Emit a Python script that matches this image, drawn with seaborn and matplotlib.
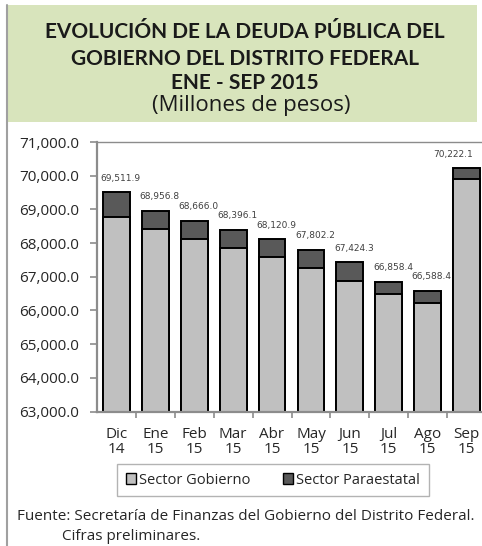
import numpy as np
import matplotlib.pyplot as plt
import seaborn as sns
import pandas as pd
from matplotlib.patches import Rectangle, Patch
from matplotlib.lines import Line2D
from matplotlib.ticker import FuncFormatter, MultipleLocator

# data
meses = ['Dic\n14', 'Ene\n15', 'Feb\n15', 'Mar\n15', 'Abr\n15', 'May\n15',
         'Jun\n15', 'Jul\n15', 'Ago\n15', 'Sep\n15']
total = [69511.9, 68956.8, 68666.0, 68396.1, 68120.9, 67802.2,
         67424.3, 66858.4, 66588.4, 70222.1]
gobierno = [68780, 68430, 68130, 67860, 67580, 67260,
            66880, 66500, 66210, 69910]
paraestatal = [t - g for t, g in zip(total, gobierno)]

df = pd.DataFrame({'mes': meses, 'total': total, 'gobierno': gobierno,
                   'paraestatal': paraestatal})

sns.set_theme(style='white')
plt.rcParams['font.family'] = ['Open Sans', 'DejaVu Sans']

fig = plt.figure(figsize=(4.82, 5.46), dpi=100)
W, H = 482, 546

# header box
fig.patches.append(Rectangle((7 / W, 1 - 122 / H), 470 / W, 117 / H,
                             transform=fig.transFigure, facecolor='#d8e4bc',
                             edgecolor='none', zorder=0))
fig.lines.append(Line2D([7 / W, 7 / W], [0, 1 - 5 / H], transform=fig.transFigure,
                        color='#a0a0a0', lw=1.5))

tkw = dict(ha='center', va='center', fontsize=15, fontweight='bold',
           color='#1a1a1a', family=['Lato', 'DejaVu Sans'])
fig.text(245 / W, 1 - 32 / H, 'EVOLUCIÓN DE LA DEUDA PÚBLICA DEL', **tkw)
fig.text(245 / W, 1 - 59 / H, 'GOBIERNO DEL DISTRITO FEDERAL', **tkw)
fig.text(245 / W, 1 - 83 / H, 'ENE - SEP 2015', **tkw)
fig.text(251 / W, 1 - 106 / H, '(Millones de pesos)', ha='center',
         va='center', fontsize=16, color='#1a1a1a')

ax = fig.add_axes([97 / W, 1 - 411.5 / H, 389 / W, 269.5 / H])

sns.barplot(data=df, x='mes', y='total', color='#595959', edgecolor='black',
            linewidth=1.4, width=0.69, saturation=1, ax=ax)
sns.barplot(data=df, x='mes', y='gobierno', color='#c0c0c0', edgecolor='black',
            linewidth=1.4, width=0.69, saturation=1, ax=ax)

ax.set_ylim(63000, 71000)
ax.set_xlim(-0.5, 9.5)
ax.yaxis.set_major_locator(MultipleLocator(1000))
ax.yaxis.set_major_formatter(FuncFormatter(lambda v, p: f'{v:,.1f}'))
ax.set_xlabel('')
ax.set_ylabel('')

for i, t in enumerate(total):
    dx = 3 if i < 9 else -10
    ax.annotate(f'{t:,.1f}', (i, t), xytext=(dx, 10), textcoords='offset points',
                ha='center', va='center', fontsize=6.5, color='#404040',
                family='DejaVu Sans')

for s in ['left', 'bottom']:
    ax.spines[s].set_color('#8c8c8c')
    ax.spines[s].set_linewidth(1.6)
for s in ['top', 'right']:
    ax.spines[s].set_color('#8c8c8c')
    ax.spines[s].set_linewidth(1.0)

ax.tick_params(axis='y', left=True, length=5, width=1.2, color='#8c8c8c',
               labelsize=11, labelcolor='#262626', pad=8)
ax.tick_params(axis='x', which='major', bottom=False, labelsize=11,
               labelcolor='#262626', pad=5)
ax.set_xticks(np.arange(0.5, 9.5, 1), minor=True)
ax.tick_params(axis='x', which='minor', bottom=True, length=4, width=1.2,
               color='#8c8c8c')
for lab in ax.get_xticklabels():
    lab.set_linespacing(1.0)

handles = [Patch(facecolor='#c0c0c0', edgecolor='black', label='Sector Gobierno'),
           Patch(facecolor='#595959', edgecolor='black', label='Sector Paraestatal')]
leg = fig.legend(handles=handles, loc='center', bbox_to_anchor=(273 / W, 1 - 480 / H),
                 ncol=2, fontsize=10.5, frameon=True, fancybox=False,
                 handlelength=0.7, handleheight=0.7, handletextpad=0.2,
                 columnspacing=2.2, borderpad=0.6, borderaxespad=0)
leg.get_frame().set_edgecolor('#a0a0a0')
leg.get_frame().set_linewidth(1.0)

fig.text(17 / W, 1 - 517 / H,
         'Fuente: Secretaría de Finanzas del Gobierno del Distrito Federal.',
         ha='left', va='center', fontsize=11, color='#262626')
fig.text(62 / W, 1 - 536 / H, 'Cifras preliminares.', ha='left', va='center',
         fontsize=11, color='#262626')

fig.savefig('out.png', dpi=100)
